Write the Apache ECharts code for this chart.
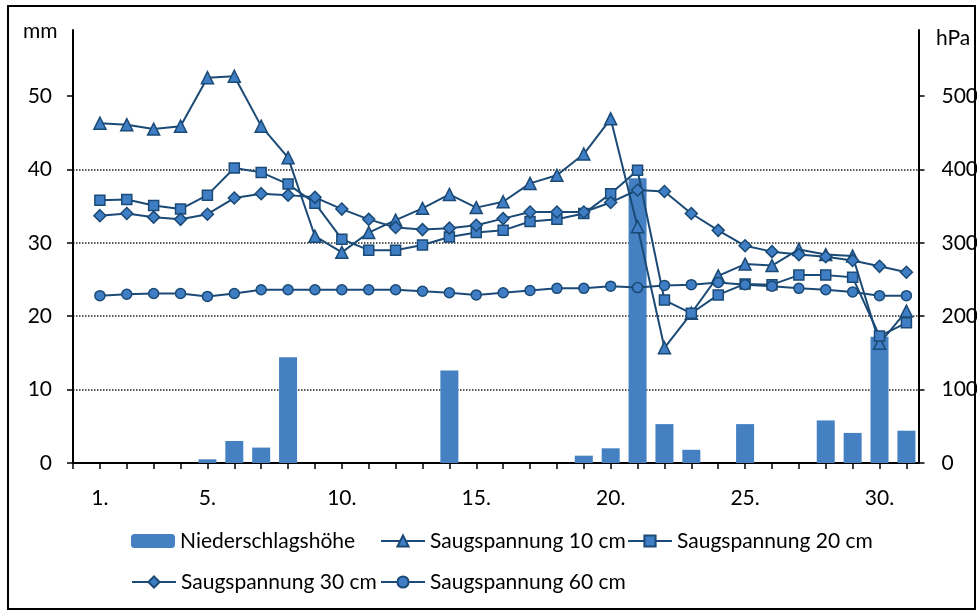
<!DOCTYPE html>
<html><head><meta charset="utf-8">
<script src="https://cdn.jsdelivr.net/npm/echarts@6/dist/echarts.min.js"></script>
<style>html,body{margin:0;padding:0;background:#fff}#c{width:977px;height:610px}</style>
</head><body><div id="c"></div>
<script>
const days = [1,2,3,4,5,6,7,8,9,10,11,12,13,14,15,16,17,18,19,20,21,22,23,24,25,26,27,28,29,30,31];
const xTickLabels = [1,5,10,15,20,25,30];
const leftTicks = [0,10,20,30,40,50];
const rightTicks = [0,100,200,300,400,500];

const niederschlag = [0,0,0,0,0.5,3.0,2.1,14.4,0,0,0,0,0,12.6,0,0,0,0,1.0,2.0,38.8,5.3,1.8,0,5.3,0,0,5.8,4.1,17.2,4.4];
const saug10 = [463,461,455,459,525,527,459,416,309,287,314,331,347,366,348,356,381,392,421,469,322,157,204,255,271,269,291,284,282,163,207];
const saug20 = [358,359,351,346,365,402,396,380,354,305,290,290,297,308,314,317,329,332,340,367,399,222,204,229,244,243,256,256,253,173,191];
const saug30 = [337,340,335,332,339,361,367,365,362,346,332,321,318,320,324,333,342,342,342,355,372,370,340,317,296,288,284,281,276,268,260];
const saug60 = [228,230,231,231,227,231,236,236,236,236,236,236,234,232,229,232,235,238,238,241,239,242,243,246,243,241,238,236,233,228,228];

const names = ['Niederschlagshöhe','Saugspannung 10 cm','Saugspannung 20 cm','Saugspannung 30 cm','Saugspannung 60 cm'];

const FONT = 'Lato';
const LINE = '#1A4A75';
const FILL = '#3F7EC4';
const BAR = '#4480C2';

function pairs(arr){ return days.map((d,i)=>[d, arr[i]]); }

function lineSeries(name, data, symbol, size){
  return {
    name, type:'line', yAxisIndex:1, data: pairs(data),
    symbol, symbolSize:size, showAllSymbol:true,
    lineStyle:{color:LINE, width:2},
    itemStyle:{color:FILL, borderColor:LINE, borderWidth:1.5},
    z:3
  };
}

const legendBase = {itemWidth:44, itemHeight:14, itemGap:0, padding:0,
  textStyle:{fontFamily:FONT, fontSize:21, color:'#000', lineHeight:22}};
function lg(name, left, top){ return Object.assign({}, legendBase, {data:[name], left, top}); }

const chart = echarts.init(document.getElementById('c'), null, {renderer:'canvas'});
chart.setOption({
  animation:false,
  backgroundColor:'#fff',
  textStyle:{fontFamily:FONT},
  grid:{left:73, right:58.5, top:30, bottom:147, containLabel:false, outerBoundsMode:'none'},
  xAxis:{
    type:'value', min:0, max:31.45, interval:1,
    axisLine:{show:true, lineStyle:{color:'#000', width:2}},
    axisTick:{show:true, inside:false, length:6, lineStyle:{color:'#000', width:1.5}, customValues:[0].concat(days)},
    axisLabel:{customValues:xTickLabels, formatter:v=>v+'.', fontFamily:FONT, fontSize:21, color:'#000', margin:25},
    splitLine:{show:false}
  },
  yAxis:[
    {type:'value', min:0, max:59, interval:10, position:'left',
     axisLine:{show:true, lineStyle:{color:'#000', width:2}},
     axisTick:{show:true, length:6, lineStyle:{color:'#000', width:1.5}, customValues:leftTicks},
     axisLabel:{customValues:leftTicks, fontFamily:FONT, fontSize:21, color:'#000', margin:21},
     splitLine:{show:true, showMinLine:false, showMaxLine:false, lineStyle:{color:'#222', width:1.5, type:[1.5,1.5]}}
    },
    {type:'value', min:0, max:590, interval:100, position:'right',
     axisLine:{show:true, lineStyle:{color:'#000', width:2}},
     axisTick:{show:true, length:6, lineStyle:{color:'#000', width:1.5}, customValues:rightTicks},
     axisLabel:{customValues:rightTicks, fontFamily:FONT, fontSize:21, color:'#000', margin:23},
     splitLine:{show:false}
    }
  ],
  legend:[
    lg(names[0],131,530), lg(names[1],380,530), lg(names[2],627,530),
    lg(names[3],131,571), lg(names[4],380,571)
  ],
  graphic:[
    {type:'rect', shape:{x:8,y:6,width:967,height:603}, style:{fill:'none', stroke:'#000', lineWidth:2}, silent:true},
    {type:'text', left:23, top:21, style:{text:'mm', fontFamily:FONT, fontSize:21, fill:'#000'}},
    {type:'text', left:936, top:28, style:{text:'hPa', fontFamily:FONT, fontSize:21, fill:'#000'}}
  ],
  series:[
    {name:names[0], type:'bar', yAxisIndex:0, data:pairs(niederschlag), barWidth:18,
     itemStyle:{color:BAR, borderWidth:0}, z:2},
    lineSeries(names[1], saug10, 'triangle', 12),
    lineSeries(names[2], saug20, 'rect', 10),
    lineSeries(names[3], saug30, 'diamond', 12),
    lineSeries(names[4], saug60, 'circle', 10)
  ]
});
</script></body></html>
